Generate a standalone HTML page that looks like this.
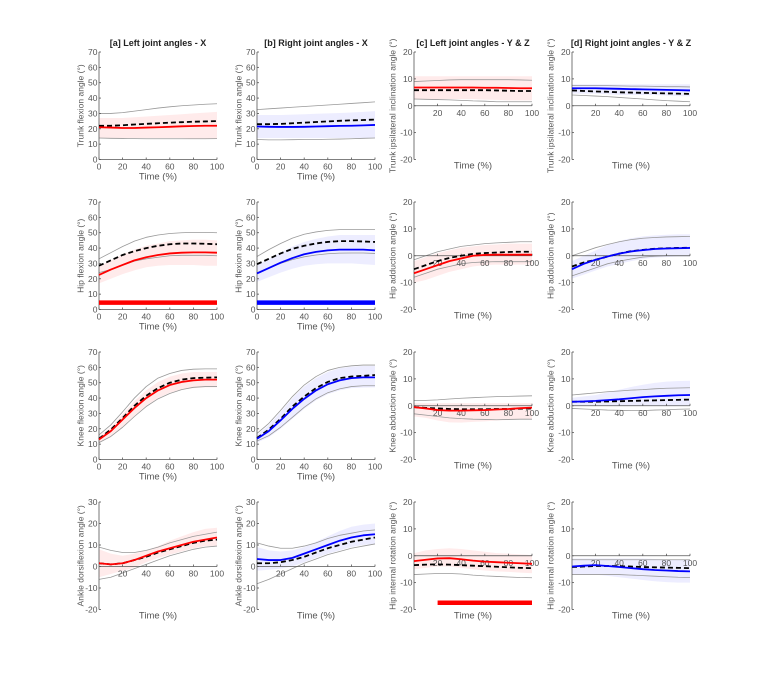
<!DOCTYPE html>
<html><head><meta charset="utf-8"><style>
html,body{margin:0;padding:0;background:#fff;}
svg{display:block;font-family:"Liberation Sans",Arial,sans-serif;}
</style></head><body>
<svg id="fig" width="764" height="685" viewBox="0 0 764 685"></svg>
<script>
// x samples (Time %)
const timePct = [0,10,20,30,40,50,60,70,80,90,100];
// Panel a1: left trunk flexion
const a1_mean=[21,20.8,20.5,20.5,20.8,21,21.3,21.6,21.8,22,22];
const a1_ref=[22,22,22.3,22.8,23.2,23.6,24,24.3,24.6,24.8,25];
const a1_refHi=[30,30,30.5,31.5,32.5,33.5,34.3,35,35.5,36,36.3];
const a1_refLo=[14,13.8,13.7,13.6,13.5,13.5,13.5,13.5,13.5,13.5,13.6];
const a1_bandHi=[27,27,27,27.5,28,28.5,29,29.5,30,30.5,31];
const a1_bandLo=[14,14,14,14,14,14,14,14,13.5,13.5,13.5];
// a2: left hip flexion
const a2_mean=[22.5,26,29,32,34,35.5,36.5,37,37.2,37.2,37];
const a2_ref=[28.5,32,35.5,38,40,41.5,42.5,43,43,42.8,42.5];
const a2_refHi=[33,37,41,44.5,47,48.5,49.5,50,50.2,50.2,50];
const a2_refLo=[24,26,29,31.5,33,34,35,35.3,35.3,35.3,35];
const a2_bandHi=[28,32,36,39,41.5,43,44.5,45,45.5,45.5,45];
const a2_bandLo=[17,20,23,25.5,27.5,28.5,29,29,29,28.5,28.5];
const a2_sig=[0,100,4.5];
// a3: left knee flexion
const a3_mean=[13,18.5,26,33.5,40,45,48.5,50.5,51.5,52,52];
const a3_ref=[13.5,19.5,27,35,41.5,46.5,50,52,53,53.3,53.5];
const a3_refHi=[16,22.5,31,40,47.5,53,56,58,58.8,59,59];
const a3_refLo=[11,15,21,28,34.5,39.5,43,45.5,47,47.5,47.5];
const a3_bandHi=[15,21,29.5,38,45,50.5,54,56,57,57,57];
const a3_bandLo=[11,15.5,21.5,28.5,35,40,43.5,45.5,46.5,47,47];
// a4: left ankle dorsiflexion
const a4_mean=[1.5,1,1.5,3,5,7,8.5,10,11.5,12.5,13.5];
const a4_ref=[1.5,1,1.5,3,4.5,6.5,8,9.5,11,12,12.5];
const a4_refHi=[9,7.5,6.5,6.5,7.5,9,11,12.5,14,15,16];
const a4_refLo=[-6,-5,-3,-1,1,3,5,6.5,8,9,9.5];
const a4_bandHi=[8,6,5,6,7.5,9.5,12,14,16,17.5,18];
const a4_bandLo=[-5,-3.5,-2,-0.5,2,4,5.5,7,8.5,9.5,9.5];
// b1: right trunk flexion
const b1_mean=[21.5,21.3,21.2,21.2,21.3,21.5,21.7,21.9,22,22.2,22.5];
const b1_ref=[23,23,23.2,23.6,24,24.4,24.8,25.2,25.5,25.7,26];
const b1_refHi=[32.5,33,33.5,34,34.5,35,35.5,36,36.5,37,37.5];
const b1_refLo=[13,12.8,12.8,12.9,13,13,13.2,13.3,13.5,13.8,14];
const b1_bandHi=[29,29,29,29.2,29.5,29.8,30,30.3,30.6,31,31.5];
const b1_bandLo=[14,14,14,14,14,14,14,14,14,14,14];
// b2: right hip flexion
const b2_mean=[23.5,27,30.5,33.5,36,37.5,38.5,39,39,39,38.5];
const b2_ref=[29.5,33,36.5,39.5,41.5,43,44,44.5,44.5,44.3,44];
const b2_refHi=[34.5,39,43,46.5,49,50.5,51.5,52,52,52,52];
const b2_refLo=[24,27,30,32.5,34.3,35.5,36.3,36.7,36.8,36.8,36.5];
const b2_bandHi=[29,33,37,41,44,46,47.5,48.5,48.5,48.5,48.5];
const b2_bandLo=[18,21,24,26.5,28.5,29.5,30,30,30,29.5,29];
const b2_sig=[0,100,4.5];
// b3: right knee flexion
const b3_mean=[13.5,18.5,25.5,33,39.5,45,49,51.5,53,53.5,53.5];
const b3_ref=[14,19.5,26.5,34.5,41,46.5,50.5,53,54,54.5,55];
const b3_refHi=[17,23.5,32,41,48.5,54,58,60,61,61.5,61.5];
const b3_refLo=[12,15.5,21,27.5,34,39.5,43.5,46,47.5,48,48];
const b3_bandHi=[16,22.5,31,40,47.5,53,57,59.5,60.5,61,61];
const b3_bandLo=[11,14.5,20,26.5,33,38.5,42.5,45,46.5,46.8,47];
// b4: right ankle dorsiflexion
const b4_mean=[3.5,3,3,4,6,8,10,12,13.5,14.5,15];
const b4_ref=[1.5,1.5,2,3,4.5,6.5,8.5,10,11.5,12.5,13.5];
const b4_refHi=[11,9.5,8.5,8.5,9.5,11,13,14.5,15.5,16.5,17];
const b4_refLo=[-8,-6,-3.5,-1,1.5,3.5,5.5,7,8.5,9.5,10.5];
const b4_bandHi=[9,7.5,7,7.5,9,11.5,14,16.5,18.5,19.5,20];
const b4_bandLo=[-2,-1.5,-1,0,2,4,6,7.5,9,10,10.5];
// c1: left trunk inclination
const c1_mean=[6.8,6.8,6.8,6.8,6.8,6.8,6.7,6.7,6.6,6.5,6.5];
const c1_ref=[5.8,5.8,5.8,5.8,5.8,5.8,5.8,5.7,5.6,5.5,5.5];
const c1_refHi=[9,9.2,9.4,9.6,9.7,9.7,9.7,9.7,9.7,9.6,9.5];
const c1_refLo=[2.5,2.4,2.3,2.2,2,1.8,1.7,1.5,1.5,1.5,1.5];
const c1_bandHi=[11,11,11,11,11,11,11,11,11,11,11];
const c1_bandLo=[2.5,2.5,2.5,2.5,2.5,2.5,2.3,2.2,2,2,2];
// c2: left hip adduction
const c2_mean=[-6.5,-5,-3.5,-2,-1,0,0.3,0.4,0.4,0.4,0.4];
const c2_ref=[-5,-3.5,-2,-0.8,0,0.7,1,1.2,1.4,1.5,1.5];
const c2_refHi=[-1.5,0,1.5,2.5,3.5,4,4.5,4.8,5,5.2,5.2];
const c2_refLo=[-8,-6.5,-5,-4,-3,-2.5,-2.3,-2.2,-2.2,-2.2,-2.2];
const c2_bandHi=[-2,-0.5,1,2,3,3.5,4,4.2,4.5,4.5,4.5];
const c2_bandLo=[-10,-9,-7.5,-6,-5,-4,-3.5,-3.3,-3.3,-3.3,-3.3];
// c3: left knee abduction
const c3_mean=[-0.5,-1,-1.6,-1.8,-1.8,-1.7,-1.6,-1.4,-1.2,-0.9,-0.7];
const c3_ref=[-0.5,-0.8,-1,-1.2,-1.3,-1.3,-1.3,-1.2,-1.2,-1.1,-1];
const c3_refHi=[2,2,2.2,2.5,2.8,3,3.2,3.4,3.5,3.6,3.7];
const c3_refLo=[-3,-3.5,-4,-4.5,-4.8,-5,-5.1,-5.2,-5.1,-5,-5];
const c3_bandHi=[1,1,1,1,1,1,1,1,1,1,1];
const c3_bandLo=[-4,-4.5,-5.5,-6.2,-6.3,-6,-5.8,-5.5,-5.3,-5,-4.8];
// c4: left hip internal rotation
const c4_mean=[-2,-1.5,-1,-0.9,-1.3,-1.8,-2.2,-2.4,-2.6,-2.8,-3];
const c4_ref=[-3.5,-3.3,-3.2,-3.3,-3.5,-3.7,-3.9,-4.1,-4.3,-4.5,-4.6];
const c4_refHi=[0,0,0,0,0,0,0,0,0,0,0];
const c4_refLo=[-7,-6.8,-6.6,-6.6,-6.8,-7.2,-7.5,-7.7,-7.9,-8.1,-8.2];
const c4_bandHi=[1,2,2.5,2.8,2.5,2,1.5,1,0.8,0.5,0.3];
const c4_bandLo=[-5,-4.5,-4,-4,-4.5,-5,-5.5,-5.8,-6,-6.3,-6.5];
const c4_sig=[20,100,-17.5];
// d1: right trunk inclination
const d1_mean=[6.5,6.5,6.5,6.4,6.3,6.2,6.1,6,5.9,5.8,5.7];
const d1_ref=[5.7,5.5,5.3,5.2,5,4.9,4.8,4.7,4.6,4.5,4.4];
const d1_refHi=[7.5,7.5,7.5,7.5,7.4,7.3,7.3,7.2,7.1,7.1,7];
const d1_refLo=[4,3.8,3.6,3.4,3.1,2.8,2.5,2.2,1.9,1.7,1.5];
const d1_bandHi=[8,8,8,8,8,8,8,8,8,8,8];
const d1_bandLo=[4.5,4.5,4.5,4.3,4,4,4,4,3.8,3.6,3.5];
// d2: right hip adduction
const d2_mean=[-5,-3,-1.5,-0.3,0.8,1.6,2.1,2.5,2.7,2.8,2.9];
const d2_ref=[-4,-2.5,-1.5,-0.3,0.8,1.7,2.2,2.6,2.8,2.9,3];
const d2_refHi=[0,1.5,3,4.2,5.2,6,6.5,6.8,7,7.1,7.2];
const d2_refLo=[-7.5,-6,-4.5,-3,-2,-1.2,-0.5,-0.2,0,0,0];
const d2_bandHi=[-2,0,2,4,5.5,6.5,7.2,7.6,7.8,8,8];
const d2_bandLo=[-8.5,-7,-5.5,-4,-3,-2,-1.2,-0.7,-0.5,-0.3,-0.3];
// d3: right knee abduction
const d3_mean=[1.5,1.6,1.8,2.1,2.4,2.8,3.2,3.5,3.7,3.9,4];
const d3_ref=[1.5,1.5,1.5,1.6,1.7,1.8,1.9,2,2.1,2.2,2.3];
const d3_refHi=[4,4.4,4.8,5.2,5.5,5.8,6,6.3,6.5,6.6,6.7];
const d3_refLo=[-1,-1.2,-1.4,-1.6,-1.7,-1.8,-1.8,-1.6,-1.5,-1.3,-1.2];
const d3_bandHi=[3,3.5,4,5,6,7,7.8,8.5,9,9.2,9.3];
const d3_bandLo=[0,0,0,0,0,0,0,0,0,0,0];
// d4: right hip internal rotation
const d4_mean=[-4,-3.7,-3.5,-3.8,-4.2,-4.6,-5,-5.3,-5.5,-5.7,-5.8];
const d4_ref=[-4.2,-4,-3.8,-3.8,-3.9,-4,-4.2,-4.3,-4.4,-4.5,-4.6];
const d4_refHi=[-1.5,-1.5,-1.5,-1.5,-1.5,-1.5,-1.5,-1.5,-1.5,-1.5,-1.5];
const d4_refLo=[-7,-7,-7,-7,-7,-7.2,-7.4,-7.6,-7.8,-8,-8.1];
const d4_bandHi=[-1,-1,-1,-1,-1,-1,-1,-1.2,-1.4,-1.5,-1.5];
const d4_bandLo=[-7,-7,-7,-7.5,-8,-8.5,-9,-9.5,-9.8,-10,-10];

const colTitles=["[a] Left joint angles - X","[b] Right joint angles - X","[c] Left joint angles - Y & Z","[d] Right joint angles - Y & Z"];
const yLabels=[
 ["Trunk flexion angle (°)","Hip flexion angle (°)","Knee flexion angle (°)","Ankle dorsiflexion angle (°)"],
 ["Trunk flexion angle (°)","Hip flexion angle (°)","Knee flexion angle (°)","Ankle dorsiflexion angle (°)"],
 ["Trunk ipsilateral inclination angle (°)","Hip adduction angle (°)","Knee abduction angle (°)","Hip internal rotation angle (°)"],
 ["Trunk ipsilateral inclination angle (°)","Hip adduction angle (°)","Knee abduction angle (°)","Hip internal rotation angle (°)"]];

const NS="http://www.w3.org/2000/svg";
const svg=document.getElementById('fig');
function mk(tag,attrs,parent){const e=document.createElementNS(NS,tag);for(const k in attrs)e.setAttribute(k,attrs[k]);(parent||svg).appendChild(e);return e;}

const colX=[99,257,414,572], rowY=[52,202,352,502], PW=118, PH=107.5;
const series={
 a1:[a1_mean,a1_ref,a1_refHi,a1_refLo,a1_bandHi,a1_bandLo,null],
 a2:[a2_mean,a2_ref,a2_refHi,a2_refLo,a2_bandHi,a2_bandLo,a2_sig],
 a3:[a3_mean,a3_ref,a3_refHi,a3_refLo,a3_bandHi,a3_bandLo,null],
 a4:[a4_mean,a4_ref,a4_refHi,a4_refLo,a4_bandHi,a4_bandLo,null],
 b1:[b1_mean,b1_ref,b1_refHi,b1_refLo,b1_bandHi,b1_bandLo,null],
 b2:[b2_mean,b2_ref,b2_refHi,b2_refLo,b2_bandHi,b2_bandLo,b2_sig],
 b3:[b3_mean,b3_ref,b3_refHi,b3_refLo,b3_bandHi,b3_bandLo,null],
 b4:[b4_mean,b4_ref,b4_refHi,b4_refLo,b4_bandHi,b4_bandLo,null],
 c1:[c1_mean,c1_ref,c1_refHi,c1_refLo,c1_bandHi,c1_bandLo,null],
 c2:[c2_mean,c2_ref,c2_refHi,c2_refLo,c2_bandHi,c2_bandLo,null],
 c3:[c3_mean,c3_ref,c3_refHi,c3_refLo,c3_bandHi,c3_bandLo,null],
 c4:[c4_mean,c4_ref,c4_refHi,c4_refLo,c4_bandHi,c4_bandLo,c4_sig],
 d1:[d1_mean,d1_ref,d1_refHi,d1_refLo,d1_bandHi,d1_bandLo,null],
 d2:[d2_mean,d2_ref,d2_refHi,d2_refLo,d2_bandHi,d2_bandLo,null],
 d3:[d3_mean,d3_ref,d3_refHi,d3_refLo,d3_bandHi,d3_bandLo,null],
 d4:[d4_mean,d4_ref,d4_refHi,d4_refLo,d4_bandHi,d4_bandLo,null]};
const AX="#555", TX="#555";

for(let c=0;c<4;c++){
 const t=mk('text',{x:colX[c]+PW/2,y:46,'text-anchor':'middle','font-size':'9','font-weight':'bold',fill:'#222'});
 t.textContent=colTitles[c];
 
 
 for(let r=0;r<4;r++){
  const key='abcd'[c]+(r+1);
  const [mean,ref,rhi,rlo,bhi,blo,sig]=series[key];
  let ymin,ymax,step;
  if(c<2&&r<3){ymin=0;ymax=70;step=10;} else if(c<2){ymin=-20;ymax=30;step=10;} else {ymin=-20;ymax=20;step=10;}
  const x0=colX[c], y0=rowY[r];
  const X=v=>x0+v/100*PW, Y=v=>y0+(ymax-v)/(ymax-ymin)*PH;
  const g=mk('g',{});
  
  
  const color=(c%2===0)?'#ff0000':'#0000ff';
  const bandCol=(c%2===0)?'rgba(255,0,0,0.08)':'rgba(0,0,255,0.07)';
  const lx=x0-(c<2?15.5:18.5), ly=y0+PH/2;
  const yl=mk('text',{x:lx,y:ly,'text-anchor':'middle','font-size':'8.5',fill:TX,transform:'rotate(-90 '+lx+' '+ly+')'},g);
  yl.textContent=yLabels[c][r];
  
  
  let d='M'+timePct.map((t,i)=>X(t)+','+Y(bhi[i])).join('L');
  for(let i=timePct.length-1;i>=0;i--) d+='L'+X(timePct[i])+','+Y(blo[i]);
  const band=mk('path',{d:d+'Z',fill:bandCol,stroke:'none'},g);
  
  
  const line=(arr,attrs,name)=>{const p=mk('path',Object.assign({d:'M'+timePct.map((t,i)=>X(t)+','+Y(arr[i])).join('L'),fill:'none','stroke-linejoin':'round'},attrs),g);
   
   };
  line(rhi,{stroke:'#999','stroke-width':0.8},'reference-upper');
  line(rlo,{stroke:'#999','stroke-width':0.8},'reference-lower');
  const originX=!(r<3&&c<2);
  const axY=originX?Y(0):y0+PH;
  const ax=mk('g',{stroke:AX,'stroke-width':0.8},g);
  
  
  mk('line',{x1:x0,y1:y0,x2:x0,y2:y0+PH},ax);
  mk('line',{x1:x0,y1:axY,x2:x0+PW,y2:axY},ax);
  for(let v=ymin;v<=ymax;v+=step){
   mk('line',{x1:x0,y1:Y(v),x2:x0+2,y2:Y(v)},ax);
   const tl=mk('text',{x:x0-1.5,y:Y(v)+3,'text-anchor':'end','font-size':'8.5',fill:TX},g);
   tl.textContent=v;
   
   
  }
  for(let v=(originX?20:0);v<=100;v+=20){
   mk('line',{x1:X(v),y1:axY,x2:X(v),y2:axY-2},ax);
   const tl=mk('text',{x:X(v),y:axY+10,'text-anchor':'middle','font-size':'8.5',fill:TX},g);
   tl.textContent=v;
   
   
  }
  line(ref,{stroke:'#000','stroke-width':1.8,'stroke-dasharray':'5,3'},'reference-mean');
  line(mean,{stroke:color,'stroke-width':1.8},'subject-mean');
  if(sig){
   const s=mk('line',{x1:X(sig[0]),y1:Y(sig[2]),x2:X(sig[1]),y2:Y(sig[2]),stroke:color,'stroke-width':4.5},g);
   
   
  }
  const xl=mk('text',{x:x0+PW/2,y:(originX?y0+PH+9:y0+PH+20),'text-anchor':'middle','font-size':'9.5',fill:TX},g);
  xl.textContent='Time (%)';
  
  
 }
}
</script>
</body></html>
